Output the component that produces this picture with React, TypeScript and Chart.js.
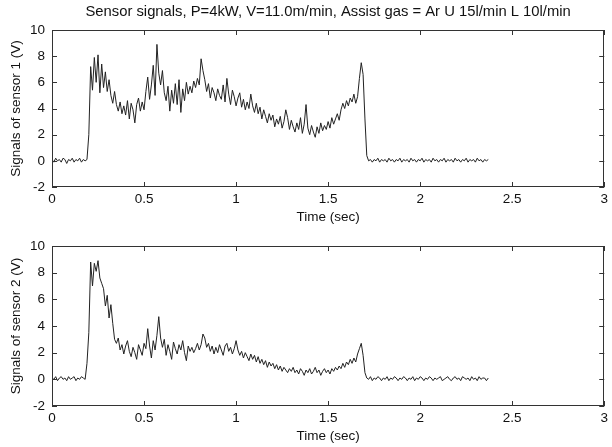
import React, { useEffect, useRef } from "react";
import { Chart, registerables } from "chart.js";

Chart.register(...registerables);

const TITLE = "Sensor signals, P=4kW, V=11.0m/min, Assist gas = Ar U 15l/min L 10l/min";
const X_LABEL = "Time (sec)";
const Y_LABEL_1 = "Signals of sensor 1 (V)";
const Y_LABEL_2 = "Signals of sensor 2 (V)";
const X_TICKS = [0, 0.5, 1, 1.5, 2, 2.5, 3];
const Y_TICKS = [-2, 0, 2, 4, 6, 8, 10];
const SAMPLE_STEP = 0.01; // seconds between samples

const SENSOR1 = [
  0.1, -0.1, 0.2, 0.0, 0.1, -0.1, 0.2, 0.1, -0.2, 0.1,
  0.0, 0.2, -0.1, 0.1, 0.0, 0.2, -0.1, 0.1, 0.0, 0.1,
  2.0, 7.2, 5.4, 7.9, 6.0, 8.1, 5.2, 7.4, 5.6, 6.8,
  5.3, 6.2, 5.0, 4.4, 5.3, 4.3, 3.8, 4.5, 3.6, 4.2,
  3.5, 4.6, 3.2, 4.4, 3.9, 2.9, 4.3, 4.8, 3.8, 4.5,
  3.9, 5.3, 6.4, 4.7, 5.8, 7.3, 5.0, 8.9, 6.7, 5.8,
  6.9, 5.2, 4.6, 5.7, 3.8, 5.4, 4.4, 5.9, 4.3, 6.2,
  3.7, 5.5, 4.6, 6.0, 5.1, 5.7, 5.2, 6.1, 5.6, 6.3,
  5.8, 7.8, 6.9, 6.2, 5.3, 5.9, 4.8, 5.6, 5.2, 4.6,
  5.5, 5.0, 4.7, 5.8, 4.5, 6.3, 5.1, 4.3, 5.4, 4.9,
  4.2, 4.8, 5.2, 4.1, 4.7, 3.9, 4.5, 4.0, 5.1, 4.2,
  3.7, 4.4, 3.6, 4.1, 3.2, 3.9, 3.4, 2.9, 3.6, 3.1,
  3.5, 2.6, 3.2, 2.8, 3.4, 2.5, 3.0, 3.9, 3.3, 2.4,
  3.1, 2.6, 2.2, 2.9, 2.4, 3.3, 2.1, 2.8, 4.3, 2.5,
  2.0, 2.7, 2.2, 1.8, 2.6, 2.1, 2.9, 2.3, 2.7, 2.4,
  3.0, 2.5, 3.3, 2.8, 3.2, 3.6, 3.1, 3.9, 4.4, 4.0,
  4.6, 4.2, 4.8, 4.5, 5.1, 4.4, 4.9, 6.3, 7.5, 6.6,
  3.2, 0.4, 0.0, 0.1, -0.1, 0.1, 0.0, 0.2, -0.1, 0.1,
  0.0, 0.1, -0.1, 0.2, 0.0, 0.1, -0.1, 0.1, 0.0, 0.2,
  -0.1, 0.1, 0.0, 0.1, -0.1, 0.2, 0.0, 0.1, -0.1, 0.1,
  0.0, 0.2, -0.1, 0.1, 0.0, 0.1, -0.1, 0.2, 0.0, 0.1,
  -0.1, 0.1, 0.0, 0.2, -0.1, 0.1, 0.0, 0.1, -0.1, 0.2,
  0.0, 0.1, -0.1, 0.1, 0.0, 0.2, -0.1, 0.1, 0.0, 0.1,
  -0.1, 0.2, 0.0, 0.1, -0.1, 0.1, 0.0, 0.1,
];

const SENSOR2 = [
  0.1, 0.0, 0.2, -0.1, 0.1, 0.2, 0.0, 0.1, -0.1, 0.2,
  0.0, 0.1, 0.2, -0.1, 0.1, 0.0, 0.2, 0.1, 0.0, 1.2,
  3.5, 8.8, 7.0, 8.7, 8.1, 8.9, 7.6, 7.2, 6.8, 5.5,
  6.3, 4.6, 5.6, 4.2, 3.0, 2.7, 3.1, 2.2, 2.6, 1.9,
  2.5, 2.9, 2.1, 1.7, 2.4, 2.0, 1.5, 2.6, 2.2, 1.8,
  2.7, 2.3, 3.8, 2.5, 1.6, 2.9, 2.2, 3.3, 4.7, 3.1,
  2.4, 3.0, 1.8, 2.6, 2.1, 1.5, 2.8, 2.3, 1.9, 2.6,
  2.2, 2.9, 2.0, 1.4, 2.5, 2.1, 2.4, 2.0, 2.3, 2.7,
  2.2, 2.6, 3.4, 3.1, 2.4, 2.7, 2.1, 2.5, 1.9, 2.4,
  2.0, 2.6, 2.2, 1.8, 2.5, 2.7, 2.1, 2.4, 1.9, 2.3,
  2.9, 2.2, 1.8, 2.1, 1.6, 2.0, 1.7, 1.4, 1.9, 1.5,
  1.8, 1.3, 1.7, 1.2, 1.5, 1.1, 1.4, 0.9, 1.3, 1.0,
  1.2, 0.8, 1.1, 0.7, 1.0, 0.6, 0.9, 0.7, 0.5, 0.8,
  0.6, 0.9, 0.5, 0.7, 0.4, 0.8, 0.6, 0.3, 0.7, 0.5,
  0.8, 0.4, 0.6, 0.9, 0.5, 0.7, 0.3, 0.6, 0.8, 0.5,
  0.7, 0.4, 0.8, 0.6, 0.9, 0.7, 1.0, 0.8, 1.2, 0.9,
  1.3, 1.1, 1.5, 1.2, 1.6, 1.3, 1.9, 2.3, 2.7, 1.8,
  0.5, 0.1, 0.0, 0.2, -0.1, 0.1, 0.0, 0.2, 0.1, -0.1,
  0.1, 0.0, 0.2, -0.1, 0.1, 0.0, 0.2, 0.1, -0.1, 0.1,
  0.0, 0.2, 0.1, -0.1, 0.1, 0.0, 0.2, -0.1, 0.1, 0.0,
  0.2, 0.1, -0.1, 0.1, 0.0, 0.2, 0.1, -0.1, 0.1, 0.0,
  0.1, 0.2, -0.1, 0.0, 0.1, 0.2, 0.0, -0.1, 0.1, 0.2,
  0.0, 0.1, -0.1, 0.2, 0.1, 0.0, 0.1, -0.1, 0.2, 0.0,
  0.1, -0.1, 0.2, 0.0, 0.1, 0.1, -0.1, 0.1,
];

const FONT = "'Liberation Sans', Arial, Helvetica, sans-serif";
const INK = "#111";

const framePlugin = {
  id: "matlabFrame",
  afterDraw(chart: any) {
    const { ctx, chartArea, scales } = chart;
    const { left, right, top, bottom } = chartArea;
    const x = scales.x;
    const y = scales.y;
    ctx.save();
    ctx.strokeStyle = "#333";
    ctx.lineWidth = 1;
    ctx.strokeRect(Math.round(left) + 0.5, Math.round(top) + 0.5, Math.round(right - left) - 1, Math.round(bottom - top) - 1);
    const tl = 5;
    ctx.beginPath();
    X_TICKS.forEach((v) => {
      const px = Math.round(x.getPixelForValue(v)) + 0.5;
      ctx.moveTo(px, bottom);
      ctx.lineTo(px, bottom - tl);
      ctx.moveTo(px, top);
      ctx.lineTo(px, top + tl);
    });
    Y_TICKS.forEach((v) => {
      const py = Math.round(y.getPixelForValue(v)) + 0.5;
      ctx.moveTo(left, py);
      ctx.lineTo(left + tl, py);
      ctx.moveTo(right, py);
      ctx.lineTo(right - tl, py);
    });
    ctx.stroke();
    ctx.restore();
  },
};

const titlePlugin = {
  id: "centeredTitle",
  afterDraw(chart: any, _args: any, opts: any) {
    if (!opts || !opts.text) return;
    const { ctx, chartArea } = chart;
    ctx.save();
    ctx.font = `${opts.size}px ${FONT}`;
    ctx.fillStyle = INK;
    ctx.textAlign = "center";
    ctx.textBaseline = "middle";
    ctx.fillText(opts.text, (chartArea.left + chartArea.right) / 2, opts.y);
    ctx.restore();
  },
};

type PanelProps = {
  values: number[];
  yLabel: string;
  width: number;
  height: number;
  padTop: number;
  xAxisHeight: number;
  xTitlePadBottom: number;
  title?: string;
};

function Panel({ values, yLabel, width, height, padTop, xAxisHeight, xTitlePadBottom, title }: PanelProps) {
  const ref = useRef<HTMLCanvasElement | null>(null);
  useEffect(() => {
    if (!ref.current) return;
    const points = values.map((v, i) => ({ x: i * SAMPLE_STEP, y: v }));
    const chart = new Chart(ref.current, {
      type: "line",
      data: {
        datasets: [
          {
            data: points,
            borderColor: "#222",
            borderWidth: 1,
            pointRadius: 0,
            tension: 0,
          },
        ],
      },
      options: {
        responsive: false,
        animation: false,
        events: [],
        layout: { padding: { top: padTop, right: 5, left: 0, bottom: 0 }, autoPadding: false },
        plugins: {
          legend: { display: false },
          tooltip: { enabled: false },
          centeredTitle: { text: title, y: 12, size: 14.8 },
        } as any,
        scales: {
          x: {
            type: "linear",
            min: 0,
            max: 3,
            afterBuildTicks: (s: any) => {
              s.ticks = X_TICKS.map((v) => ({ value: v }));
            },
            afterFit: (s: any) => {
              s.height = xAxisHeight;
            },
            grid: { display: false, drawTicks: false },
            border: { display: false },
            ticks: {
              autoSkip: false,
              maxRotation: 0,
              padding: 4,
              color: INK,
              font: { family: FONT, size: 13.5 },
              callback: (v: any) => String(v),
            },
            title: {
              display: true,
              text: X_LABEL,
              color: INK,
              font: { family: FONT, size: 13.5 },
              padding: { top: 0, bottom: xTitlePadBottom },
            },
          },
          y: {
            type: "linear",
            min: -2,
            max: 10,
            afterBuildTicks: (s: any) => {
              s.ticks = Y_TICKS.map((v) => ({ value: v }));
            },
            afterFit: (s: any) => {
              s.width = 52;
            },
            grid: { display: false, drawTicks: false },
            border: { display: false },
            ticks: {
              padding: 7,
              color: INK,
              font: { family: FONT, size: 13.5 },
              callback: (v: any) => String(v),
            },
            title: {
              display: true,
              text: yLabel,
              color: INK,
              font: { family: FONT, size: 13.5 },
              padding: { top: 8, bottom: 0 },
            },
          },
        },
      },
      plugins: [framePlugin, titlePlugin],
    });
    return () => chart.destroy();
  }, [values, yLabel, width, height, padTop, xAxisHeight, xTitlePadBottom, title]);
  return <canvas ref={ref} width={width} height={height} style={{ display: "block", width, height }} />;
}

export default function App() {
  return (
    <div style={{ position: "fixed", left: 0, top: 0, width: 612, height: 447, background: "#fff" }}>
      <Panel values={SENSOR1} yLabel={Y_LABEL_1} width={612} height={225} padTop={30} xAxisHeight={38} xTitlePadBottom={0} title={TITLE} />
      <Panel values={SENSOR2} yLabel={Y_LABEL_2} width={612} height={222} padTop={21} xAxisHeight={41} xTitlePadBottom={3} />
    </div>
  );
}
